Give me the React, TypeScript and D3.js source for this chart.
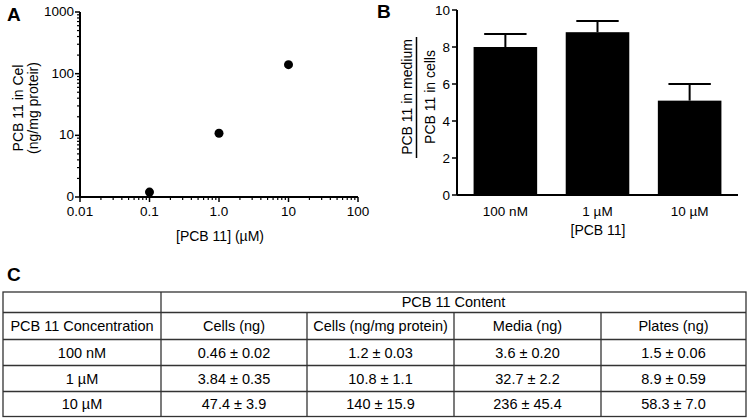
import React from "react";
import * as d3 from "d3";

// Panel A data
const concentrationsUM = [0.1, 1, 10];
const cellsNgPerMg = [1.2, 10.8, 140];
const xTicksA = [0.01, 0.1, 1, 10, 100];
const xTickLabelsA = ["0.01", "0.1", "1.0", "10", "100"];
const yTicksA = [1, 10, 100, 1000];
const yTickLabelsA = ["0", "10", "100", "1000"];

// Panel B data
const categoriesB = ["100 nM", "1 µM", "10 µM"];
const ratioMeans = [8.0, 8.8, 5.1];
const ratioErr = [0.7, 0.6, 0.9];
const yTicksB = [0, 2, 4, 6, 8, 10];

// Table data
const tableHeader = ["PCB 11 Concentration", "Cells (ng)", "Cells (ng/mg protein)", "Media (ng)", "Plates (ng)"];
const rowLabels = ["100 nM", "1 µM", "10 µM"];
const cellsNg = ["0.46 ± 0.02", "3.84 ± 0.35", "47.4 ± 3.9"];
const cellsProtein = ["1.2 ± 0.03", "10.8 ± 1.1", "140 ± 15.9"];
const mediaNg = ["3.6 ± 0.20", "32.7 ± 2.2", "236 ± 45.4"];
const platesNg = ["1.5 ± 0.06", "8.9 ± 0.59", "58.3 ± 7.0"];

const FONT = "'Liberation Sans', Arial, Helvetica, sans-serif";

export default function App() {
  // Panel A scales
  const xA = d3.scaleLog().domain([0.01, 100]).range([80, 358]);
  const yA = d3.scaleLog().domain([1, 1000]).range([197, 12]);
  const minorX: number[] = [];
  for (let dec = 0.01; dec < 100; dec *= 10) {
    for (let k = 2; k <= 9; k++) minorX.push(dec * k);
  }
  const minorY: number[] = [];
  for (let dec = 1; dec < 1000; dec *= 10) {
    for (let k = 2; k <= 9; k++) minorY.push(dec * k);
  }

  // Panel B scales
  const xB = d3.scaleBand().domain(categoriesB).range([457, 738]).paddingInner(0.31).paddingOuter(0.18);
  const yB = d3.scaleLinear().domain([0, 10]).range([195, 10]);
  const bw = xB.bandwidth();

  // Table geometry
  const colX = [3, 161, 307, 454, 601, 746];
  const rowY = [292, 312.5, 339.5, 365.5, 391.5, 416.5];
  const tableCols = [rowLabels, cellsNg, cellsProtein, mediaNg, platesNg];

  const axisW = 2;

  return (
    <svg width={750} height={420} style={{ position: "absolute", left: 0, top: 0, background: "#fff" }} fontFamily={FONT}>
      <rect x={0} y={0} width={750} height={420} fill="#fff" />
      {/* Panel letters */}
      <text x={7} y={21} fontSize={19} fontWeight="bold">A</text>
      <text x={377} y={18} fontSize={19} fontWeight="bold">B</text>
      <text x={7} y={281} fontSize={19} fontWeight="bold">C</text>

      {/* Panel A */}
      <g>
        <line x1={xA(0.01)} x2={xA(100)} y1={yA(1)} y2={yA(1)} stroke="#000" strokeWidth={axisW} />
        <line x1={xA(0.01)} x2={xA(0.01)} y1={yA(1)} y2={yA(1000)} stroke="#000" strokeWidth={axisW} />
        {minorX.map((v, i) => (
          <line key={"mx" + i} x1={xA(v)} x2={xA(v)} y1={yA(1)} y2={yA(1) + 3} stroke="#000" strokeWidth={1.2} />
        ))}
        {xTicksA.map((v, i) => (
          <g key={"xa" + i}>
            <line x1={xA(v)} x2={xA(v)} y1={yA(1)} y2={yA(1) + 5} stroke="#000" strokeWidth={1.5} />
            <text x={xA(v)} y={yA(1) + 19} fontSize={13.5} textAnchor="middle">{xTickLabelsA[i]}</text>
          </g>
        ))}
        {minorY.map((v, i) => (
          <line key={"my" + i} x1={xA(0.01) - 3} x2={xA(0.01)} y1={yA(v)} y2={yA(v)} stroke="#000" strokeWidth={1.2} />
        ))}
        {yTicksA.map((v, i) => (
          <g key={"ya" + i}>
            <line x1={xA(0.01) - 5} x2={xA(0.01)} y1={yA(v)} y2={yA(v)} stroke="#000" strokeWidth={1.5} />
            <text x={xA(0.01) - 6} y={yA(v) + 4} fontSize={13.5} textAnchor="end">{yTickLabelsA[i]}</text>
          </g>
        ))}
        {concentrationsUM.map((c, i) => (
          <circle key={"pt" + i} cx={xA(c)} cy={yA(cellsNgPerMg[i])} r={4.5} fill="#000" />
        ))}
        <text transform="translate(23,108) rotate(-90)" fontSize={14} textAnchor="middle">PCB 11 in Cel</text>
        <text transform="translate(38,108) rotate(-90)" fontSize={14} textAnchor="middle">(ng/mg proteir)</text>
        <text x={220} y={241} fontSize={14} textAnchor="middle">[PCB 11] (µM)</text>
      </g>

      {/* Panel B */}
      <g>
        {categoriesB.map((c, i) => {
          const x0 = xB(c) as number;
          const cx = x0 + bw / 2;
          const top = yB(ratioMeans[i]);
          const errTop = yB(ratioMeans[i] + ratioErr[i]);
          return (
            <g key={"bar" + i}>
              <line x1={cx} x2={cx} y1={top} y2={errTop} stroke="#000" strokeWidth={2} />
              <line x1={cx - bw / 3} x2={cx + bw / 3} y1={errTop} y2={errTop} stroke="#000" strokeWidth={2} />
              <rect x={x0} y={top} width={bw} height={yB(0) - top} fill="#000" />
              <text x={cx} y={yB(0) + 21} fontSize={13.5} textAnchor="middle">{c}</text>
            </g>
          );
        })}
        <line x1={457} x2={738} y1={yB(0)} y2={yB(0)} stroke="#000" strokeWidth={axisW} />
        <line x1={457} x2={457} y1={yB(0)} y2={yB(10)} stroke="#000" strokeWidth={axisW} />
        {yTicksB.map((v, i) => (
          <g key={"yb" + i}>
            <line x1={452} x2={457} y1={yB(v)} y2={yB(v)} stroke="#000" strokeWidth={1.5} />
            <text x={450} y={yB(v) + 5} fontSize={13.5} textAnchor="end">{v}</text>
          </g>
        ))}
        <text transform="translate(412,97) rotate(-90)" fontSize={14} textAnchor="middle">PCB 11 in medium</text>
        <line x1={416.5} x2={416.5} y1={37} y2={158} stroke="#000" strokeWidth={1.5} />
        <text transform="translate(435,97) rotate(-90)" fontSize={14} textAnchor="middle">PCB 11 in cells</text>
        <text x={598} y={235} fontSize={14} textAnchor="middle">[PCB 11]</text>
      </g>

      {/* Panel C table */}
      <g stroke="#333" strokeWidth={1.3} fill="none">
        <rect x={colX[0]} y={rowY[0]} width={colX[5] - colX[0]} height={rowY[5] - rowY[0]} />
        {rowY.slice(1, 5).map((y, i) => (
          <line key={"hr" + i} x1={colX[0]} x2={colX[5]} y1={y} y2={y} />
        ))}
        <line x1={colX[1]} x2={colX[1]} y1={rowY[0]} y2={rowY[5]} />
        {colX.slice(2, 5).map((x, i) => (
          <line key={"vc" + i} x1={x} x2={x} y1={rowY[1]} y2={rowY[5]} />
        ))}
      </g>
      <g fontSize={14.5} textAnchor="middle" fill="#000">
        <text x={(colX[1] + colX[5]) / 2} y={(rowY[0] + rowY[1]) / 2 + 5}>PCB 11 Content</text>
        {tableHeader.map((h, i) => (
          <text key={"th" + i} x={(colX[i] + colX[i + 1]) / 2} y={(rowY[1] + rowY[2]) / 2 + 5}>{h}</text>
        ))}
        {tableCols.map((col, ci) =>
          col.map((val, ri) => (
            <text key={"td" + ci + "-" + ri} x={(colX[ci] + colX[ci + 1]) / 2} y={(rowY[ri + 2] + rowY[ri + 3]) / 2 + 5}>{val}</text>
          ))
        )}
      </g>
    </svg>
  );
}
